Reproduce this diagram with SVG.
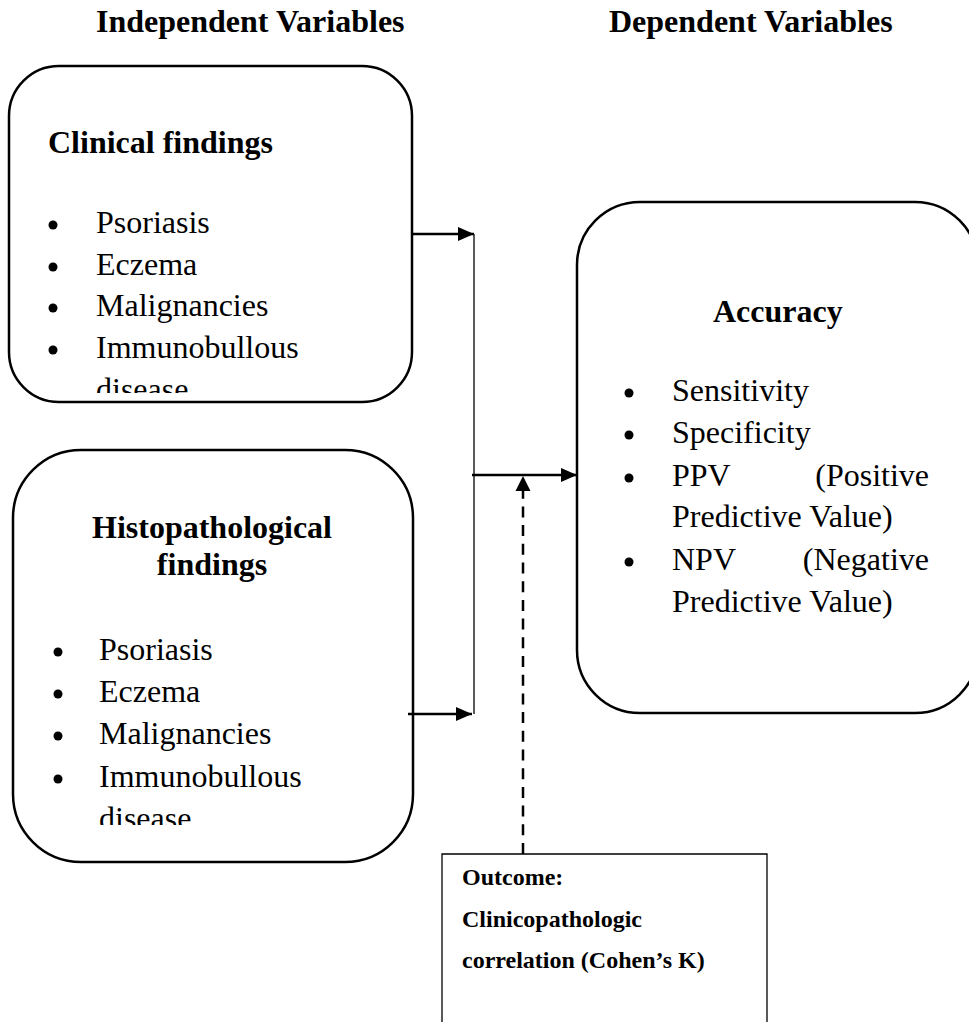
<svg xmlns="http://www.w3.org/2000/svg" width="969" height="1022" viewBox="0 0 969 1022">
<style>
.t{font-family:"Liberation Serif","Times New Roman",serif;fill:#000}
.b{font-weight:bold}
.f32{font-size:32px}
.f24{font-size:24px}
.box{fill:#fff;stroke:#000;stroke-width:2.5}
.thin{fill:none;stroke:#000;stroke-width:1.3}
.con{fill:none;stroke:#000;stroke-width:2.5}
.dash{fill:none;stroke:#000;stroke-width:2.5;stroke-dasharray:11 7.7}
.dot{fill:#000}
</style>
<defs>
<marker id="ah" viewBox="0 0 16 14" refX="16" refY="7" markerWidth="16" markerHeight="14" markerUnits="userSpaceOnUse" orient="auto">
<path d="M0,0 L16,7 L0,14 Z" fill="#000"/>
</marker>
<clipPath id="clipC"><rect x="0" y="60" width="420" height="333"/></clipPath>
<clipPath id="clipH"><rect x="0" y="440" width="420" height="385"/></clipPath>
</defs>
<rect width="969" height="1022" fill="#fff"/>
<g id="headers">
<text class="t b f32" x="96" y="32">Independent Variables</text>
<text class="t b f32" x="609" y="32">Dependent Variables</text>
</g>
<g id="clinical">
<rect class="box" x="9" y="66" width="403" height="336" rx="50" ry="50"/>
<text class="t b f32" x="48" y="153">Clinical findings</text>
<circle class="dot" cx="53" cy="225" r="4.5"/>
<circle class="dot" cx="53" cy="267" r="4.5"/>
<circle class="dot" cx="53" cy="308" r="4.5"/>
<circle class="dot" cx="53" cy="350" r="4.5"/>
<g clip-path="url(#clipC)">
<text class="t f32" x="96" y="233">Psoriasis</text>
<text class="t f32" x="96" y="275">Eczema</text>
<text class="t f32" x="96" y="316">Malignancies</text>
<text class="t f32" x="96" y="358">Immunobullous</text>
<text class="t f32" x="96" y="400">disease</text>
</g>
</g>
<g id="histopathological">
<rect class="box" x="13" y="450" width="400" height="412" rx="68" ry="68"/>
<text class="t b f32" x="212" y="538" text-anchor="middle">Histopathological</text>
<text class="t b f32" x="212" y="575" text-anchor="middle">findings</text>
<circle class="dot" cx="58" cy="652" r="4.5"/>
<circle class="dot" cx="58" cy="694" r="4.5"/>
<circle class="dot" cx="58" cy="736" r="4.5"/>
<circle class="dot" cx="58" cy="779" r="4.5"/>
<g clip-path="url(#clipH)">
<text class="t f32" x="99" y="660">Psoriasis</text>
<text class="t f32" x="99" y="702">Eczema</text>
<text class="t f32" x="99" y="744">Malignancies</text>
<text class="t f32" x="99" y="787">Immunobullous</text>
<text class="t f32" x="99" y="829">disease</text>
</g>
</g>
<g id="accuracy">
<rect class="box" x="577" y="202" width="401" height="511" rx="63" ry="63"/>
<text class="t b f32" x="713" y="322">Accuracy</text>
<circle class="dot" cx="629" cy="393" r="4.5"/>
<circle class="dot" cx="629" cy="435" r="4.5"/>
<circle class="dot" cx="629" cy="478" r="4.5"/>
<circle class="dot" cx="629" cy="562" r="4.5"/>
<text class="t f32" x="672" y="401">Sensitivity</text>
<text class="t f32" x="672" y="443">Specificity</text>
<text class="t f32" x="672" y="486">PPV</text>
<text class="t f32" x="929" y="486" text-anchor="end">(Positive</text>
<text class="t f32" x="672" y="527">Predictive Value)</text>
<text class="t f32" x="672" y="570">NPV</text>
<text class="t f32" x="929" y="570" text-anchor="end">(Negative</text>
<text class="t f32" x="672" y="612">Predictive Value)</text>
</g>
<g id="outcome">
<path class="thin" d="M442,1022 V854 H767 V1022"/>
<text class="t b f24" x="462" y="885">Outcome:</text>
<text class="t b f24" x="462" y="927">Clinicopathologic</text>
<text class="t b f24" x="462" y="968">correlation (Cohen’s K)</text>
</g>
<g id="connectors">
<line class="con" x1="412" y1="234" x2="474" y2="234" marker-end="url(#ah)"/>
<line class="con" x1="408" y1="714" x2="472" y2="714" marker-end="url(#ah)"/>
<line class="thin" x1="474" y1="234" x2="474" y2="714"/>
<line class="con" x1="472" y1="475" x2="577" y2="475" marker-end="url(#ah)"/>
<line class="dash" x1="523" y1="854" x2="523" y2="490"/>
<path d="M523,476 L530.5,491 L515.5,491 Z" fill="#000"/>
</g>
</svg>
